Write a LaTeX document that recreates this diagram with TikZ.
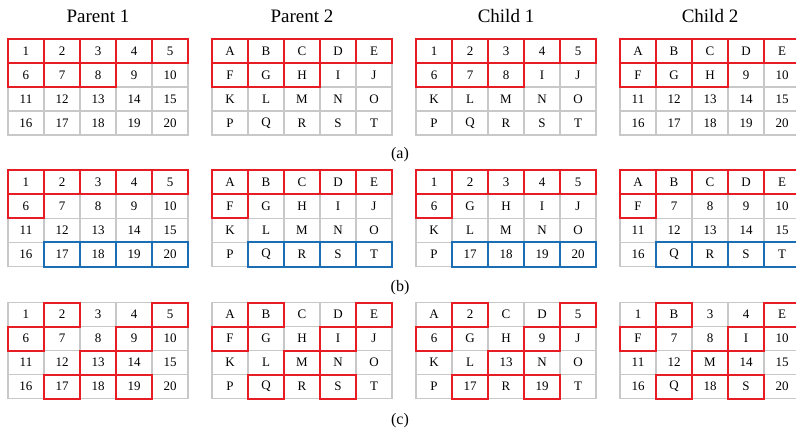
\documentclass[tikz,border=0pt]{standalone}
\usepackage{fontspec}
\setmainfont{Liberation Serif}
\usepackage{tikz}
\usetikzlibrary{positioning}

\definecolor{cellgray}{RGB}{200,200,200}
\definecolor{maskred}{RGB}{232,28,36}
\definecolor{maskblue}{RGB}{28,110,180}

% one 4x5 board of cells: name, left, top, labels
\newcommand{\board}[4]{%
  \foreach \lab [count=\i from 1] in {#4} {
    \pgfmathtruncatemacro{\rr}{(\i-1)/5}
    \pgfmathtruncatemacro{\cc}{\i-1-5*\rr}
    \node[cell] (#1-\i) at ({#2+18+36*\cc},{#3+12+24*\rr}) {\lab};
  }%
}
% outline chosen cells of a board
\newcommand{\markcells}[3]{%
  \foreach \k in {#3} {
    \draw[#2] (#1-\k.south west) rectangle (#1-\k.north east);
  }%
}

\begin{document}
\begin{tikzpicture}[x=1pt,y=-1pt,
    cell/.style={draw=cellgray,line width=1.4pt,minimum width=36pt,minimum height=24pt,
                 inner sep=0pt,outer sep=0pt,font=\fontsize{13}{14}\selectfont},
    redcell/.style={draw=maskred,line width=2pt},
    bluecell/.style={draw=maskblue,line width=2pt},
    title/.style={font=\fontsize{19}{20}\selectfont},
    caption/.style={font=\fontsize{16}{17}\selectfont}]

  \useasboundingbox (0,0) rectangle (796,433);

  % titles
  \node[title] (t1) at (98,16) {Parent 1};
  \node[title] (t2) at (302,16) {Parent 2};
  \node[title] (t3) at (506,16) {Child 1};
  \node[title] (t4) at (710,16) {Child 2};

  % (a)
  \board{ap1}{8}{39}{1,2,3,4,5,6,7,8,9,10,11,12,13,14,15,16,17,18,19,20}
  \board{ap2}{212}{39}{A,B,C,D,E,F,G,H,I,J,K,L,M,N,O,P,Q,R,S,T}
  \board{ac1}{416}{39}{1,2,3,4,5,6,7,8,I,J,K,L,M,N,O,P,Q,R,S,T}
  \board{ac2}{620}{39}{A,B,C,D,E,F,G,H,9,10,11,12,13,14,15,16,17,18,19,20}
  \foreach \g in {ap1,ap2,ac1,ac2} {\markcells{\g}{redcell}{1,...,8}}
  \node[caption] (la) at (400,155) {(a)};

  % (b)
  \board{bp1}{8}{170.5}{1,2,3,4,5,6,7,8,9,10,11,12,13,14,15,16,17,18,19,20}
  \board{bp2}{212}{170.5}{A,B,C,D,E,F,G,H,I,J,K,L,M,N,O,P,Q,R,S,T}
  \board{bc1}{416}{170.5}{1,2,3,4,5,6,G,H,I,J,K,L,M,N,O,P,17,18,19,20}
  \board{bc2}{620}{170.5}{A,B,C,D,E,F,7,8,9,10,11,12,13,14,15,16,Q,R,S,T}
  \foreach \g in {bp1,bp2,bc1,bc2} {
    \markcells{\g}{redcell}{1,...,6}
    \markcells{\g}{bluecell}{17,...,20}
  }
  \node[caption] (lb) at (400,288) {(b)};

  % (c)
  \board{cp1}{8}{302.5}{1,2,3,4,5,6,7,8,9,10,11,12,13,14,15,16,17,18,19,20}
  \board{cp2}{212}{302.5}{A,B,C,D,E,F,G,H,I,J,K,L,M,N,O,P,Q,R,S,T}
  \board{cc1}{416}{302.5}{A,2,C,D,5,6,G,H,9,J,K,L,13,N,O,P,17,R,19,T}
  \board{cc2}{620}{302.5}{1,B,3,4,E,F,7,8,I,10,11,12,M,14,15,16,Q,18,S,20}
  \foreach \g in {cp1,cp2,cc1,cc2} {\markcells{\g}{redcell}{2,5,6,9,13,17,19}}
  \node[caption] (lc) at (400,421) {(c)};

\end{tikzpicture}
\end{document}
